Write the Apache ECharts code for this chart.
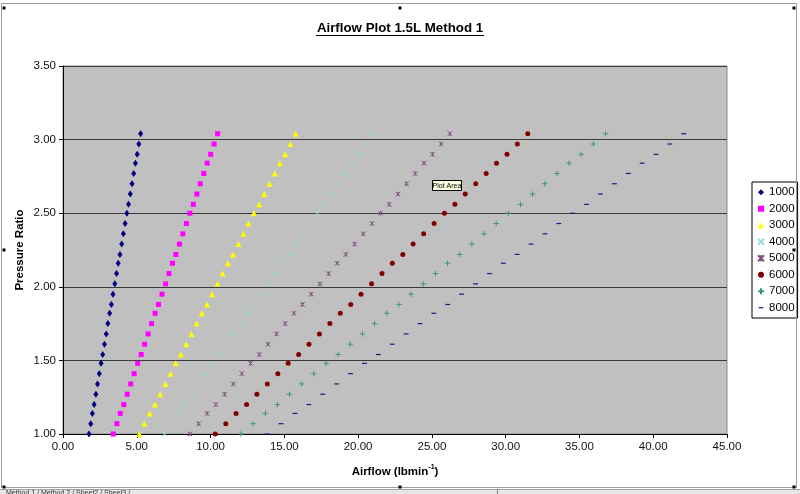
<!DOCTYPE html>
<html><head><meta charset="utf-8">
<script src="https://cdn.jsdelivr.net/npm/echarts@6/dist/echarts.min.js"></script>
<style>html,body{margin:0;padding:0;background:#fff}#c{width:800px;height:494px}</style>
</head><body><div id="c"></div>
<script>
// Pressure ratio of each measured point (shared by all rpm series)
const pressureRatio = [1.00, 1.07, 1.14, 1.20, 1.27, 1.34, 1.41, 1.48, 1.54, 1.61, 1.68, 1.75, 1.82, 1.88, 1.95, 2.02,
  2.09, 2.16, 2.22, 2.29, 2.36, 2.43, 2.50, 2.56, 2.63, 2.70, 2.77, 2.84, 2.90, 2.97, 3.04];

const seriesNames = ['1000', '2000', '3000', '4000', '5000', '6000', '7000', '8000'];

// Airflow (lb/min) for each rpm series
const flow1000 = [1.76, 1.88, 1.99, 2.11, 2.23, 2.34, 2.46, 2.58, 2.69, 2.81, 2.93, 3.04, 3.16, 3.28, 3.39, 3.51,
  3.63, 3.74, 3.86, 3.98, 4.09, 4.21, 4.33, 4.44, 4.56, 4.68, 4.79, 4.91, 5.03, 5.14, 5.26];
const flow2000 = [3.41, 3.65, 3.88, 4.12, 4.35, 4.59, 4.82, 5.06, 5.30, 5.53, 5.77, 6.00, 6.24, 6.47, 6.71, 6.95,
  7.18, 7.42, 7.65, 7.89, 8.12, 8.36, 8.60, 8.83, 9.07, 9.30, 9.54, 9.77, 10.01, 10.24, 10.48];
const flow3000 = [5.17, 5.52, 5.88, 6.23, 6.58, 6.94, 7.29, 7.64, 7.99, 8.35, 8.70, 9.05, 9.41, 9.76, 10.11, 10.47,
  10.82, 11.17, 11.52, 11.88, 12.23, 12.58, 12.94, 13.29, 13.64, 14.00, 14.35, 14.70, 15.05, 15.41, 15.76];
const flow4000 = [6.88, 7.35, 7.82, 8.29, 8.76, 9.23, 9.70, 10.17, 10.65, 11.12, 11.59, 12.06, 12.53, 13.00, 13.47, 13.94,
  14.41, 14.88, 15.35, 15.82, 16.29, 16.76, 17.24, 17.71, 18.18, 18.65, 19.12, 19.59, 20.06, 20.53, 21.00];
const flow5000 = [8.60, 9.19, 9.77, 10.36, 10.95, 11.54, 12.12, 12.71, 13.30, 13.89, 14.47, 15.06, 15.65, 16.23, 16.82, 17.41,
  18.00, 18.58, 19.17, 19.76, 20.35, 20.93, 21.52, 22.11, 22.70, 23.28, 23.87, 24.46, 25.04, 25.63, 26.22];
const flow6000 = [10.32, 11.03, 11.73, 12.44, 13.14, 13.85, 14.56, 15.26, 15.97, 16.67, 17.38, 18.09, 18.79, 19.50, 20.20, 20.91,
  21.62, 22.32, 23.03, 23.73, 24.44, 25.15, 25.85, 26.56, 27.26, 27.97, 28.68, 29.38, 30.09, 30.79, 31.50];
const flow7000 = [12.06, 12.88, 13.71, 14.53, 15.35, 16.18, 17.00, 17.83, 18.65, 19.47, 20.30, 21.12, 21.94, 22.77, 23.59, 24.42,
  25.24, 26.06, 26.89, 27.71, 28.53, 29.36, 30.18, 31.01, 31.83, 32.65, 33.48, 34.30, 35.12, 35.95, 36.77];
const flow8000 = [13.84, 14.78, 15.72, 16.66, 17.60, 18.55, 19.49, 20.43, 21.37, 22.31, 23.25, 24.19, 25.13, 26.07, 27.01, 27.96,
  28.90, 29.84, 30.78, 31.72, 32.66, 33.60, 34.54, 35.48, 36.42, 37.37, 38.31, 39.25, 40.19, 41.13, 42.07];

const flows = [flow1000, flow2000, flow3000, flow4000, flow5000, flow6000, flow7000, flow8000];

const FONT = '"Liberation Sans", Arial, sans-serif';

const markerStyles = [
  { symbol: 'diamond', size: [5, 7], color: '#000080', stroke: false },
  { symbol: 'rect', size: 5, color: '#FF00FF', stroke: false },
  { symbol: 'triangle', size: 6, color: '#FFFF00', stroke: false },
  { symbol: 'path://M0,0L10,10M10,0L0,10', size: 4.5, color: '#9ADCDC', stroke: true },
  { symbol: 'path://M0,0L10,10M10,0L0,10M5,0L5,10', size: 4.5, color: '#805080', stroke: true },
  { symbol: 'circle', size: 5, color: '#800000', stroke: false },
  { symbol: 'path://M5,0L5,10M0,5L10,5', size: 5.5, color: '#3F9585', stroke: true },
  { symbol: 'path://M0,0M10,10M1,4L9,4L9,6L1,6Z', size: 6, color: '#1A1A80', stroke: false }
];

const series = seriesNames.map((name, k) => {
  const m = markerStyles[k];
  return {
    name: name,
    type: 'scatter',
    symbol: m.symbol,
    symbolSize: m.size,
    data: pressureRatio.map((p, i) => [flows[k][i], p]),
    itemStyle: m.stroke
      ? { color: m.color, borderColor: m.color, borderWidth: 1, opacity: 1 }
      : { color: m.color, borderWidth: 0, opacity: 1 },
    emphasis: { disabled: true },
    silent: true
  };
});

const chart = echarts.init(document.getElementById('c'), null, { renderer: 'canvas' });

const handles = [[4, 8], [400, 8], [794, 8], [4, 250], [794, 250], [4, 487], [400, 487], [794, 487]].map(p => ({
  type: 'rect', shape: { x: p[0] - 1.5, y: p[1] - 1.5, width: 3, height: 3 }, style: { fill: '#000' }, z: 100
}));

chart.setOption({
  animation: false,
  backgroundColor: '#ffffff',
  grid: {
    left: 63, right: 73, top: 66, bottom: 60,
    containLabel: false, outerBoundsMode: 'none',
    show: true, backgroundColor: '#C0C0C0', borderColor: '#8c8c8c', borderWidth: 1
  },
  xAxis: {
    type: 'value', min: 0, max: 45, interval: 5,
    name: '{a|Airflow (lbmin}{s|-1}{a|)}',
    nameLocation: 'middle', nameGap: 30, nameMoveOverlap: false,
    nameTextStyle: {
      rich: {
        a: { fontFamily: FONT, fontWeight: 'bold', fontSize: 11.5, color: '#000', lineHeight: 14, verticalAlign: 'bottom' },
        s: { fontFamily: FONT, fontWeight: 'bold', fontSize: 7, color: '#000', lineHeight: 14, verticalAlign: 'top' }
      }
    },
    axisLine: { show: true, onZero: false, lineStyle: { color: '#000', width: 1 } },
    axisTick: { show: true, inside: false, length: 4, lineStyle: { color: '#000' } },
    axisLabel: { formatter: v => v.toFixed(2), fontFamily: FONT, fontSize: 11.5, color: '#111', margin: 7 },
    splitLine: { show: false }
  },
  yAxis: {
    type: 'value', min: 1, max: 3.5, interval: 0.5,
    name: 'Pressure Ratio',
    nameLocation: 'middle', nameGap: 37, nameRotate: 90, nameMoveOverlap: false,
    nameTextStyle: { fontFamily: FONT, fontWeight: 'bold', fontSize: 11.5, color: '#000' },
    axisLine: { show: true, onZero: false, lineStyle: { color: '#000', width: 1 } },
    axisTick: { show: true, inside: false, length: 4, lineStyle: { color: '#000' } },
    axisLabel: { formatter: v => v.toFixed(2), fontFamily: FONT, fontSize: 11.5, color: '#111', margin: 7 },
    splitLine: { show: true, lineStyle: { color: '#3a3a3a', width: 1 } }
  },
  legend: {
    orient: 'vertical',
    left: 752, top: 182,
    data: seriesNames,
    itemWidth: 6, itemHeight: 6, itemGap: 0, itemTextGap: 4,
    padding: [2, 3, 2, 5],
    borderColor: '#000', borderWidth: 1,
    backgroundColor: '#fff',
    selectedMode: false,
    textStyle: { fontFamily: FONT, fontSize: 11.5, color: '#000', lineHeight: 16.5 }
  },
  series: series,
  graphic: [
    { type: 'rect', shape: { x: 1.5, y: 3.5, width: 795, height: 484 }, style: { fill: null, stroke: '#9a9aa8', lineWidth: 1 }, z: 90 },
    { type: 'text', x: 400, y: 28, style: { text: 'Airflow Plot 1.5L Method 1', font: 'bold 13.3px ' + FONT, fill: '#000', align: 'center', verticalAlign: 'middle' }, z: 100 },
    { type: 'line', shape: { x1: 316, y1: 35.5, x2: 484, y2: 35.5 }, style: { stroke: '#000', lineWidth: 1 }, z: 100 },
    { type: 'rect', shape: { x: 432.5, y: 180.5, width: 29, height: 10 }, style: { fill: '#FFFFE1', stroke: '#000', lineWidth: 1 }, z: 100 },
    { type: 'text', x: 447, y: 186, style: { text: 'Plot Area', font: '7px ' + FONT, fill: '#000', align: 'center', verticalAlign: 'middle' }, z: 101 },
    { type: 'rect', shape: { x: 0, y: 489, width: 800, height: 5 }, style: { fill: '#e6e6e6' }, z: 95 },
    { type: 'line', shape: { x1: 0, y1: 489.5, x2: 800, y2: 489.5 }, style: { stroke: '#a0a0a0', lineWidth: 1 }, z: 96 },
    { type: 'line', shape: { x1: 497.5, y1: 489, x2: 497.5, y2: 494 }, style: { stroke: '#808080', lineWidth: 1 }, z: 96 },
    { type: 'text', x: 6, y: 490, style: { text: 'Method 1 / Method 2 / Sheet2 / Sheet3 /', font: '7px ' + FONT, fill: '#333', align: 'left', verticalAlign: 'top' }, z: 97 }
  ].concat(handles)
});
</script>
</body></html>
